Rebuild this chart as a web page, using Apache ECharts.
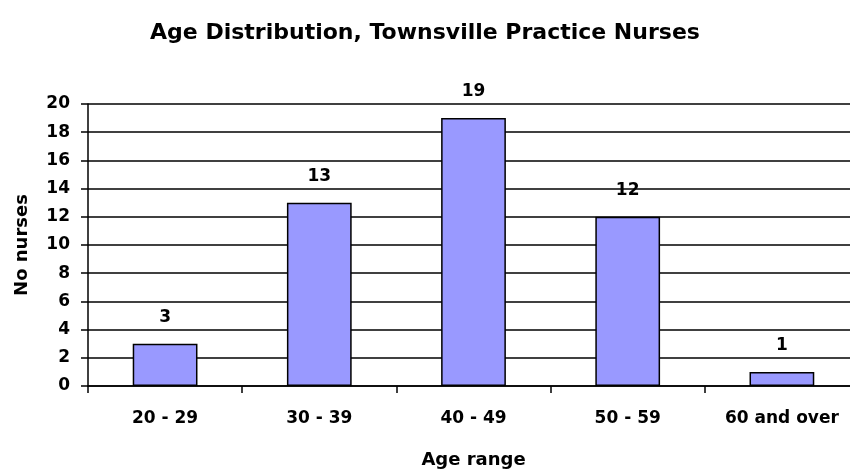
<!DOCTYPE html>
<html>
<head>
<meta charset="utf-8">
<script src="https://cdn.jsdelivr.net/npm/echarts@6/dist/echarts.min.js"></script>
<style>
  html, body { margin: 0; padding: 0; background: #fff; }
  #chart { width: 850px; height: 469px; }
</style>
</head>
<body>
<div id="chart"></div>
<script>
const categories = ['20 - 29', '30 - 39', '40 - 49', '50 - 59', '60 and over'];
const nurses = [3, 13, 19, 12, 1];

const font = 'DejaVu Sans';
const chart = echarts.init(document.getElementById('chart'));

chart.setOption({
  animation: false,
  title: {
    text: 'Age Distribution, Townsville Practice Nurses',
    left: 'center',
    top: 17,
    textStyle: { fontFamily: font, fontSize: 22, fontWeight: 'bold', color: '#000' }
  },
  grid: { left: 88, right: -9, top: 104, bottom: 83, outerBoundsMode: 'none', containLabel: false },
  xAxis: {
    type: 'category',
    data: categories,
    name: 'Age range',
    nameLocation: 'middle',
    nameGap: 65,
    nameTextStyle: { fontFamily: font, fontSize: 18, fontWeight: 'bold', color: '#000' },
    axisLine: { lineStyle: { color: '#000', width: 1.5 } },
    axisTick: { show: true, length: 7, lineStyle: { color: '#000', width: 1.5 } },
    axisLabel: { fontFamily: font, fontSize: 17, fontWeight: 'bold', color: '#000', margin: 24 }
  },
  yAxis: {
    type: 'value',
    min: 0,
    max: 20,
    interval: 2,
    name: 'No nurses',
    nameLocation: 'middle',
    nameGap: 57,
    nameTextStyle: { fontFamily: font, fontSize: 18, fontWeight: 'bold', color: '#000' },
    axisLine: { show: true, lineStyle: { color: '#000', width: 1.5 } },
    axisTick: { show: true, length: 7, lineStyle: { color: '#000', width: 1.5 } },
    axisLabel: { fontFamily: font, fontSize: 17, fontWeight: 'bold', color: '#000', margin: 18 },
    splitLine: { lineStyle: { color: '#000', width: 1.5 } }
  },
  series: [{
    type: 'bar',
    data: nurses,
    barWidth: '42%',
    itemStyle: { color: '#9999ff', borderColor: '#000', borderWidth: 1.5 },
    label: {
      show: true,
      position: 'top',
      distance: 18,
      fontFamily: font,
      fontSize: 17,
      fontWeight: 'bold',
      color: '#000'
    }
  }]
});
</script>
</body>
</html>
